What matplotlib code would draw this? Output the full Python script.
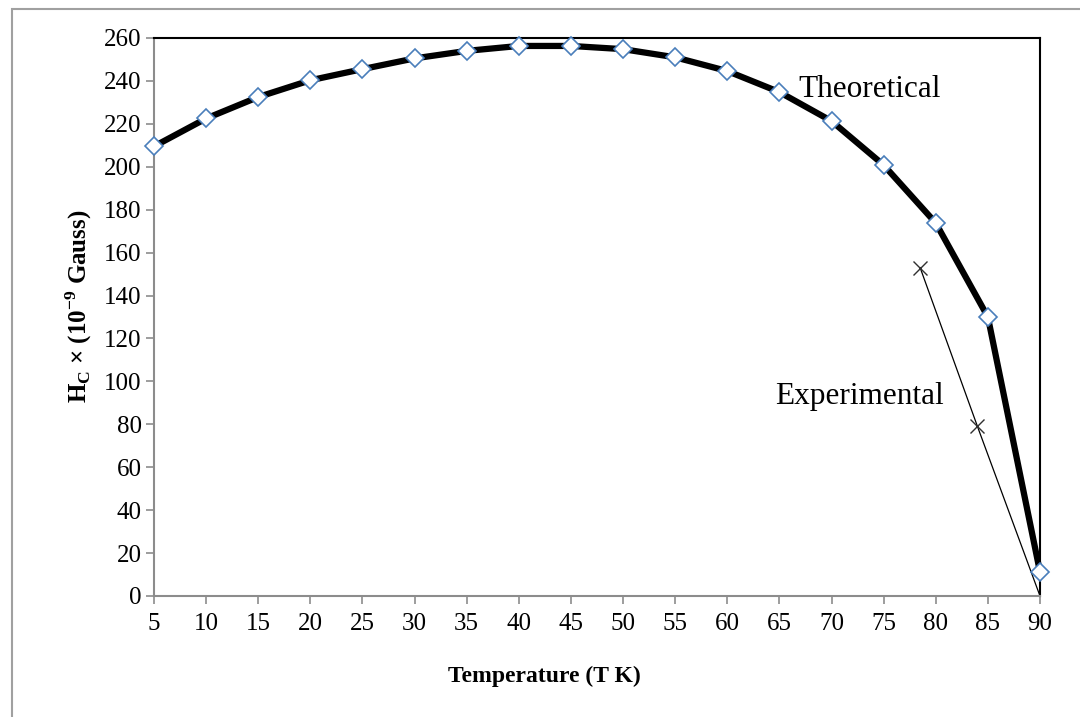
import numpy as np
import matplotlib.pyplot as plt
from matplotlib.patches import Rectangle

temps = [5, 10, 15, 20, 25, 30, 35, 40, 45, 50, 55, 60, 65, 70, 75, 80, 85, 90]
hc_theory = [209.5, 222.5, 232.5, 240.3, 245.5, 250.5, 254, 256.3, 256.3, 254.8,
             251, 244.6, 234.8, 221.3, 200.8, 173.8, 130, 11.2]
exp_temps = [78.5, 84, 90]
hc_exp = [153, 79, 0]

plt.rcParams['font.family'] = ['Liberation Serif', 'DejaVu Serif']
plt.rcParams['mathtext.fontset'] = 'custom'
plt.rcParams['mathtext.rm'] = 'Liberation Serif'
plt.rcParams['mathtext.bf'] = 'Liberation Serif:bold'

fig = plt.figure(figsize=(10.8, 7.17), dpi=100)
ax = fig.add_axes([154/1080, 1-596/717, (1040-154)/1080, (596-38)/717])

# outer chart frame
fig.patches.append(Rectangle((12/1080, -0.05), 1.2, 1-9/717+0.05, transform=fig.transFigure,
                             fill=False, edgecolor='#a0a0a0', linewidth=1.5))

ax.plot(temps, hc_theory, color='black', linewidth=4.5, marker='D', markersize=9.5,
        markerfacecolor='white', markeredgecolor='#4a7ebb', markeredgewidth=1.2, zorder=3,
        clip_on=False)
ax.plot(exp_temps, hc_exp, color='black', linewidth=0.9, marker='x', markersize=10,
        markeredgecolor='#303030', markeredgewidth=1.0, markevery=[0, 1], zorder=2)

ax.set_xlim(5, 90)
ax.set_ylim(0, 260)
ax.set_xticks(temps)
ax.set_yticks(np.arange(0, 261, 20))
ax.tick_params(axis='both', direction='out', length=6, width=1.2, color='#8c8c8c',
               labelsize=18, pad=3)
ax.tick_params(axis='x', pad=6)

for side in ['left', 'bottom']:
    ax.spines[side].set_color('#8c8c8c')
    ax.spines[side].set_linewidth(1.5)
for side in ['top', 'right']:
    ax.spines[side].set_color('black')
    ax.spines[side].set_linewidth(1.5)

ax.set_xlabel('Temperature (T K)', fontsize=17, fontweight='bold')
ax.set_ylabel(r'H$_\mathbf{C}$ × (10$^\mathbf{-9}$ Gauss)', fontsize=18, fontweight='bold')
ax.xaxis.set_label_coords(0.441, -0.125)
ax.yaxis.set_label_coords(-0.068, 0.52)

ax.text(66.8, 236, 'Theoretical', fontsize=22.5, va='center', ha='left')
ax.text(64.6, 93, 'Experimental', fontsize=22.5, va='center', ha='left')

plt.savefig('out.png', dpi=100)
